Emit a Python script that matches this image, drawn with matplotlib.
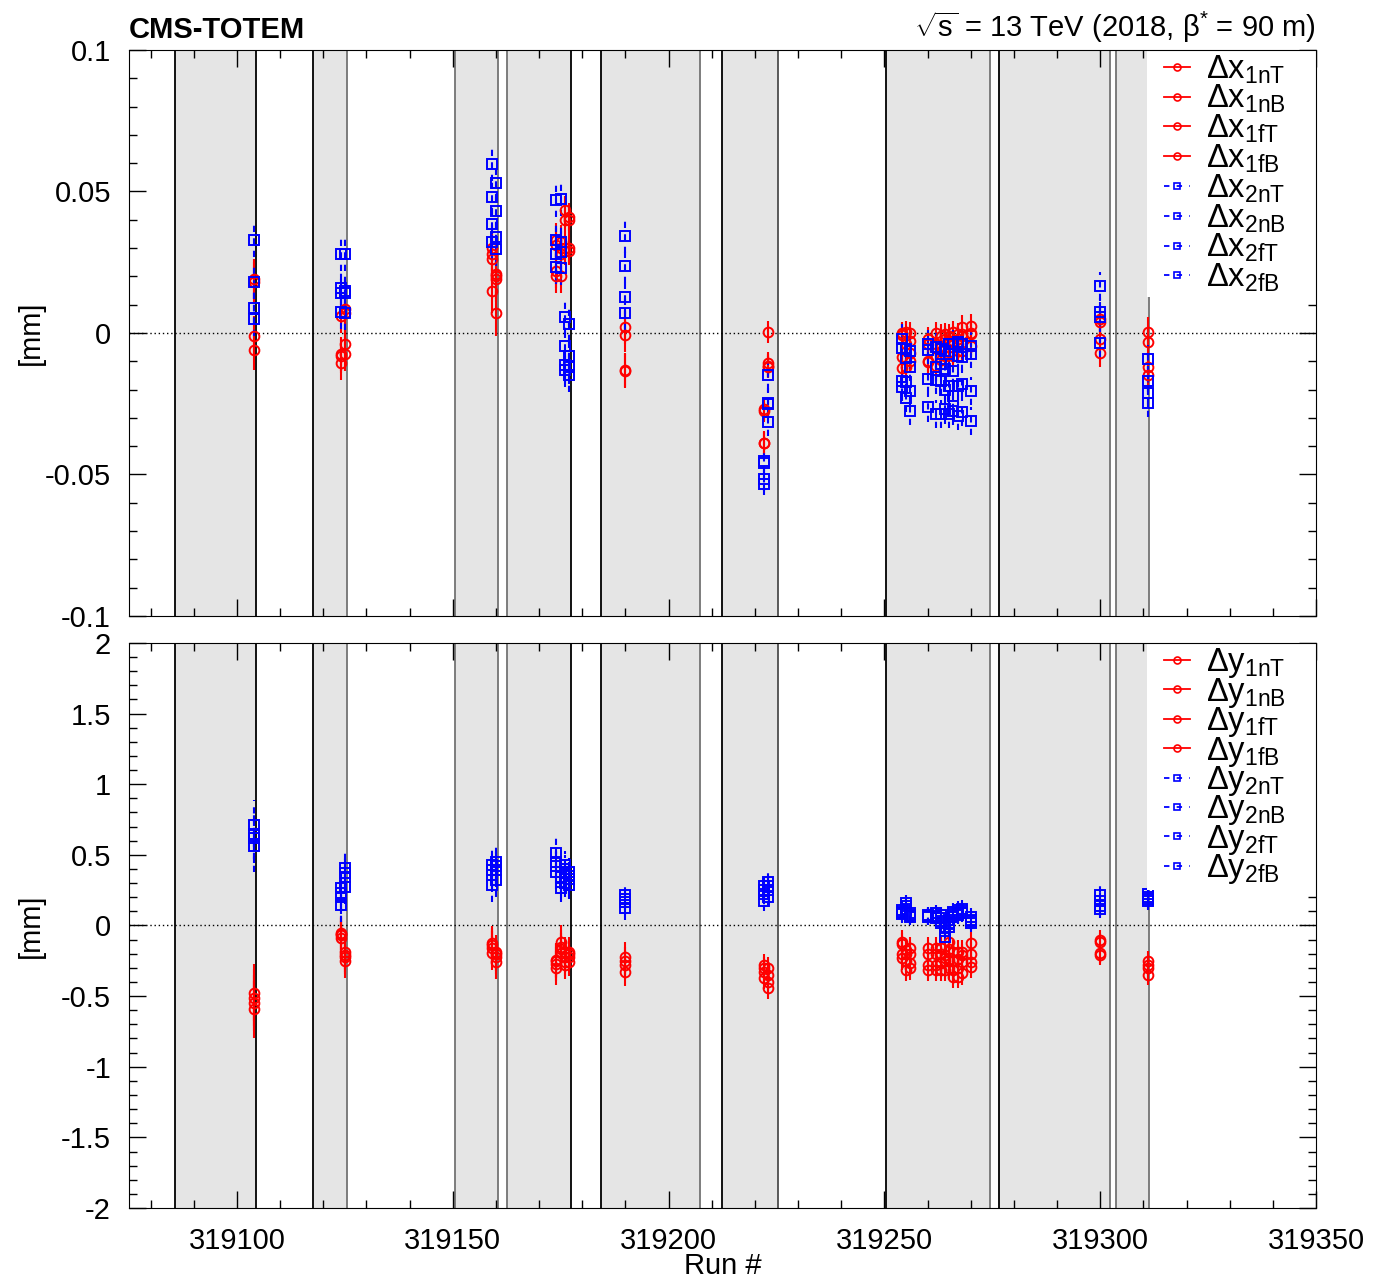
import numpy as np
import matplotlib.pyplot as plt
from matplotlib.lines import Line2D
from matplotlib.patches import Rectangle
from matplotlib.ticker import MultipleLocator

plt.rcParams['font.family'] = ['Liberation Sans', 'DejaVu Sans']
plt.rcParams['mathtext.fontset'] = 'custom'
plt.rcParams['mathtext.rm'] = 'Liberation Sans'
plt.rcParams['font.size'] = 21

# run numbers with measurements
runs = [319104, 319124, 319125, 319159, 319160, 319174, 319175, 319176, 319177,
        319190, 319222, 319223, 319254, 319255, 319256, 319260, 319262, 319263,
        319264, 319265, 319266, 319267, 319268, 319270, 319300, 319311]

# shaded fills (start, end) and colour of their border lines
fills = [(319085.7, 319104.4), (319117.6, 319125.5), (319150.5, 319160.5),
         (319162.6, 319177.4), (319184.4, 319207.3), (319212.4, 319225.4),
         (319250.4, 319274.5), (319276.6, 319302.3), (319303.7, 319311.3)]
fill_edges = [('k', 'k'), ('k', '0.45'), ('0.45', '0.45'), ('0.45', 'k'),
              ('k', '0.45'), ('k', '0.3'), ('k', '0.45'), ('k', '0.45'), ('0.45', '0.45')]

# horizontal alignment [mm]
dx_1nT = [0.019, 0.006, 0.0085, 0.028, 0.021, 0.033, 0.020, 0.0435, 0.040, 0.002, -0.0276, 0.0003, 0.0,
          0.0002, 0.0, -0.002, 0.0, -0.001, -0.0004, -0.001, 0.0002, -0.0004, 0.0022, 0.0026, -0.002, 0.0005]
dx_1nB = [0.018, -0.0075, -0.004, 0.015, 0.007, 0.020, 0.030, 0.029, 0.030, -0.0007, -0.0388, -0.0107, -0.0008,
          -0.0039, -0.0027, -0.004, -0.004, -0.0063, -0.002, -0.0027, -0.0027, -0.0039, -0.0004, 0.0, -0.007, -0.0033]
dx_1fT = [-0.001, -0.0105, -0.0075, 0.030, 0.020, 0.031, 0.028, 0.040, 0.041, -0.013, -0.027, -0.0115, -0.0084,
          -0.009, -0.0098, -0.0098, -0.0086, -0.0096, -0.0051, -0.0068, -0.008, -0.0063, -0.0063, -0.0045, 0.004, -0.0148]
dx_1fB = [-0.006, -0.008, 0.007, 0.026, 0.019, 0.022, 0.032, 0.030, 0.029, -0.0135, -0.039, -0.012, -0.0125,
          -0.012, -0.007, -0.0104, -0.0115, -0.005, -0.008, -0.003, -0.004, -0.002, -0.001, -0.0005, 0.005, -0.012]
dx_2nT = [0.033, 0.028, 0.028, 0.0598, 0.053, 0.047, 0.0473, 0.0058, 0.003, 0.0343, -0.0452, -0.015, -0.002,
          -0.0057, -0.0063, -0.004, -0.005, -0.0057, -0.0063, -0.0039, -0.0039, -0.0033, -0.0086, -0.0045, 0.0167, -0.0093]
dx_2nB = [0.018, 0.016, 0.015, 0.048, 0.043, 0.033, 0.032, -0.0046, -0.008, 0.0238, -0.046, -0.0246, -0.0053,
          -0.009, -0.012, -0.0163, -0.0121, -0.011, -0.0127, -0.0075, -0.0133, -0.008, -0.018, -0.0075, 0.0075, -0.0168]
dx_2fT = [0.009, 0.0075, 0.007, 0.0385, 0.034, 0.028, 0.0287, -0.0113, -0.012, 0.0128, -0.0517, -0.0313, -0.017,
          -0.0174, -0.0204, -0.0263, -0.0165, -0.0169, -0.0202, -0.0187, -0.0221, -0.0187, -0.028, -0.0206, 0.0058, -0.0211]
dx_2fB = [0.005, 0.014, 0.014, 0.032, 0.0297, 0.0234, 0.023, -0.013, -0.015, 0.007, -0.0533, -0.025, -0.019,
          -0.023, -0.0275, -0.006, -0.0286, -0.0287, -0.027, -0.0287, -0.0275, -0.0293, -0.004, -0.031, -0.0036, -0.0248]
ex_red = [0.007, 0.006, 0.006, 0.008, 0.008, 0.006, 0.006, 0.005, 0.005, 0.006, 0.004, 0.004, 0.004,
          0.004, 0.004, 0.004, 0.004, 0.004, 0.004, 0.004, 0.004, 0.004, 0.004, 0.004, 0.005, 0.005]
ex_blue = [0.006, 0.006, 0.006, 0.006, 0.006, 0.006, 0.006, 0.006, 0.006, 0.006, 0.004, 0.005, 0.005,
           0.005, 0.005, 0.005, 0.005, 0.005, 0.005, 0.005, 0.005, 0.005, 0.005, 0.005, 0.005, 0.005]

# vertical alignment [mm]
dy_1nT = [-0.476, -0.055, -0.185, -0.126, -0.185, -0.244, -0.115, -0.185, -0.185, -0.22, -0.28, -0.30, -0.115,
          -0.173, -0.162, -0.162, -0.162, -0.162, -0.209, -0.115, -0.185, -0.185, -0.185, -0.126, -0.10, -0.25]
dy_1nB = [-0.51, -0.07, -0.21, -0.16, -0.22, -0.303, -0.15, -0.256, -0.22, -0.28, -0.33, -0.40, -0.232,
          -0.315, -0.268, -0.279, -0.279, -0.268, -0.315, -0.244, -0.315, -0.303, -0.339, -0.256, -0.197, -0.30]
dy_1fT = [-0.55, -0.086, -0.25, -0.197, -0.256, -0.27, -0.197, -0.28, -0.256, -0.327, -0.37, -0.44, -0.20,
          -0.25, -0.303, -0.315, -0.315, -0.315, -0.25, -0.303, -0.362, -0.362, -0.26, -0.291, -0.12, -0.35]
dy_1fB = [-0.593, -0.06, -0.22, -0.14, -0.20, -0.25, -0.17, -0.22, -0.20, -0.25, -0.30, -0.35, -0.13,
          -0.20, -0.20, -0.20, -0.20, -0.20, -0.23, -0.17, -0.25, -0.24, -0.21, -0.20, -0.21, -0.28]
dy_2nT = [0.71, 0.263, 0.405, 0.428, 0.452, 0.511, 0.381, 0.428, 0.381, 0.216, 0.28, 0.31, 0.098,
          0.157, 0.086, 0.074, 0.086, 0.074, -0.008, 0.038, 0.098, 0.11, 0.12, 0.062, 0.216, 0.22]
dy_2nB = [0.65, 0.204, 0.341, 0.357, 0.393, 0.452, 0.31, 0.37, 0.33, 0.169, 0.22, 0.25, 0.086,
          0.12, 0.062, 0.062, 0.05, 0.015, -0.08, -0.008, 0.062, 0.074, 0.086, 0.015, 0.17, 0.19]
dy_2fT = [0.62, 0.145, 0.275, 0.287, 0.322, 0.381, 0.263, 0.30, 0.29, 0.122, 0.17, 0.20, 0.11,
          0.14, 0.075, 0.07, 0.07, 0.05, -0.04, 0.02, 0.08, 0.09, 0.10, 0.04, 0.14, 0.17]
dy_2fB = [0.56, 0.23, 0.37, 0.39, 0.42, 0.42, 0.34, 0.40, 0.35, 0.19, 0.25, 0.28, 0.08,
          0.10, 0.07, 0.065, 0.06, 0.03, -0.02, 0.01, 0.07, 0.08, 0.09, 0.03, 0.12, 0.20]
ey_red = [0.2, 0.12, 0.12, 0.12, 0.12, 0.12, 0.12, 0.1, 0.1, 0.1, 0.08, 0.08, 0.08,
          0.08, 0.08, 0.08, 0.08, 0.08, 0.08, 0.08, 0.08, 0.08, 0.08, 0.08, 0.07, 0.07]
ey_blue = [0.18, 0.12, 0.12, 0.12, 0.12, 0.12, 0.1, 0.1, 0.1, 0.08, 0.07, 0.07, 0.06,
           0.06, 0.06, 0.06, 0.06, 0.06, 0.06, 0.06, 0.06, 0.06, 0.06, 0.06, 0.07, 0.06]

tags = ['1nT', '1nB', '1fT', '1fB', '2nT', '2nB', '2fT', '2fB']
x_series = [dx_1nT, dx_1nB, dx_1fT, dx_1fB, dx_2nT, dx_2nB, dx_2fT, dx_2fB]
y_series = [dy_1nT, dy_1nB, dy_1fT, dy_1fB, dy_2nT, dy_2nB, dy_2fT, dy_2fB]

fig = plt.figure(figsize=(13.73, 12.79), dpi=100)
ax1 = fig.add_axes([0.094, 0.5184, 0.8645, 0.4425])
ax2 = fig.add_axes([0.094, 0.0555, 0.8645, 0.4418])


def draw_panel(ax, series, err_red, err_blue, var, ylim, major, minor, spacing):
    for (x0, x1), (c0, c1) in zip(fills, fill_edges):
        ax.axvspan(x0, x1, color='#e5e5e5', lw=0, zorder=0.5)
        ax.axvline(x0, color=c0, lw=1.3, zorder=0.6)
        ax.axvline(x1, color=c1, lw=1.3, zorder=0.6)
    ax.axhline(0, color='k', lw=1, ls=(0, (1, 2)), zorder=1)

    handles = []
    for i, vals in enumerate(series):
        red = i < 4
        col = 'red' if red else 'blue'
        err = err_red if red else err_blue
        marker = 'o' if red else 's'
        eb = ax.errorbar(runs, vals, yerr=err, fmt=marker, mfc='none', mec=col, ms=7 if red else 7.5,
                         mew=1.4, ecolor=col, elinewidth=1.5, capsize=0, zorder=3)
        if not red:
            eb[2][0].set_linestyle((0, (3, 3)))
        handles.append(Line2D([], [], color=col, ls='-' if red else (0, (3, 4)), lw=1.3,
                              marker=marker, mfc='none', mec=col, ms=5, mew=1.2))

    # white legend background
    ax.add_patch(Rectangle((0.8576, 0.5636), 0.1424, 0.4364, transform=ax.transAxes,
                           fc='white', ec='none', zorder=9))
    labels = [r'$\mathrm{\Delta %s_{%s}}$' % (var, t) for t in tags]
    leg = ax.legend(handles, labels, loc='upper left', bbox_to_anchor=(0.869, 1.0),
                    fontsize=23.5, handlelength=0.8, handletextpad=0.5,
                    labelspacing=spacing, borderpad=0.1, borderaxespad=0.0, frameon=False)
    leg.set_zorder(10)

    ax.set_xlim(319075, 319350)
    ax.set_ylim(*ylim)
    ax.xaxis.set_major_locator(MultipleLocator(50))
    ax.xaxis.set_minor_locator(MultipleLocator(10))
    ax.yaxis.set_major_locator(MultipleLocator(major))
    ax.yaxis.set_minor_locator(MultipleLocator(minor))
    ax.tick_params(which='both', direction='in', top=True, right=True, labelsize=21)
    ax.tick_params(which='major', length=12, width=1)
    ax.tick_params(which='minor', length=6, width=1)
    ax.tick_params(axis='y', pad=13)
    ax.set_ylabel('[mm]')
    ax.yaxis.set_label_coords(-0.071, 0.5)
    for s in ax.spines.values():
        s.set_zorder(11)


draw_panel(ax1, x_series, ex_red, ex_blue, 'x', (-0.1, 0.1), 0.05, 0.01, -0.08)
draw_panel(ax2, y_series, ey_red, ey_blue, 'y', (-2, 2), 0.5, 0.1, -0.14)

ax1.set_yticks([-0.1, -0.05, 0, 0.05, 0.1])
ax1.set_yticklabels(['-0.1', '-0.05', '0', '0.05', '0.1'])
ax1.tick_params(labelbottom=False)
ax2.set_yticks([-2, -1.5, -1, -0.5, 0, 0.5, 1, 1.5, 2])
ax2.set_yticklabels(['-2', '-1.5', '-1', '-0.5', '0', '0.5', '1', '1.5', '2'])
ax2.set_xticks([319100, 319150, 319200, 319250, 319300, 319350])
ax2.set_xticklabels(['319100', '319150', '319200', '319250', '319300', '319350'])
ax2.tick_params(axis='x', pad=13.5)
ax2.set_xlabel('Run #', labelpad=-2)

ax1.text(0.0, 1.01, 'CMS-TOTEM', transform=ax1.transAxes, fontweight='bold',
         fontsize=21, ha='left', va='bottom')
ax1.text(1.0, 1.008, r'$\sqrt{\mathrm{s}}$ = 13 TeV (2018, $\mathrm{\beta^{*}}$ = 90 m)',
         transform=ax1.transAxes, fontsize=21, ha='right', va='bottom')

fig.savefig('out.png', dpi=100)
